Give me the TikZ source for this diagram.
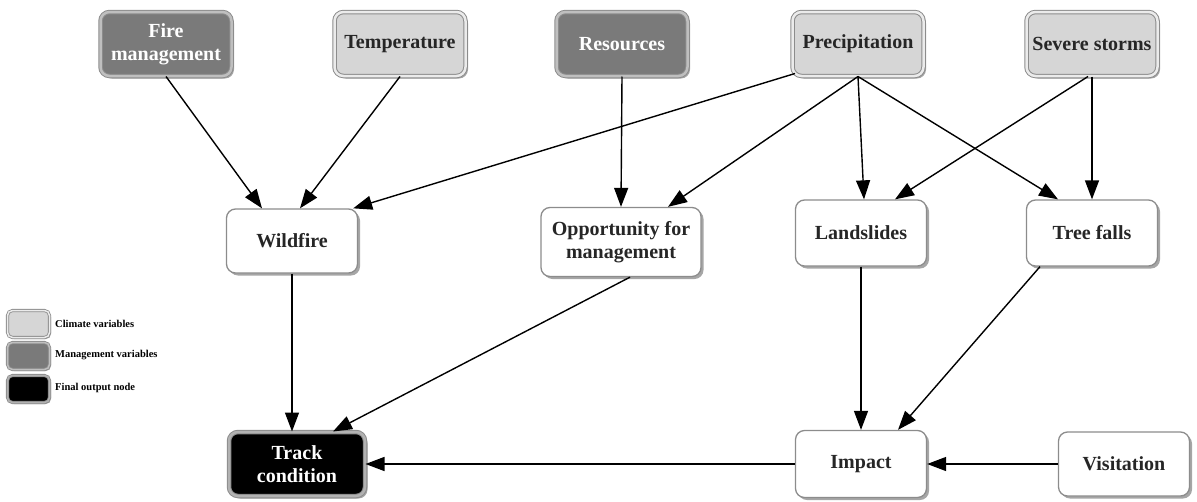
\documentclass[tikz,border=0pt]{standalone}
\usepackage{fontspec}
\setmainfont{Liberation Serif}
\usetikzlibrary{arrows.meta,shadows}
\tikzset{
  box/.style={draw=black!45, line width=1.3pt, rounded corners=9pt, minimum width=131pt, minimum height=64pt,
    align=center, inner sep=2pt, font=\bfseries\fontsize{20}{23}\selectfont, text=black!85,
    drop shadow={shadow xshift=2.5pt, shadow yshift=-2.5pt, opacity=0.35, fill=black}},
  dbl/.style={double distance=2.5pt, line width=1pt},
  clim/.style={box, fill=black!16, dbl, double=black!8},
  mgmt/.style={box, fill=black!52, text=white, dbl, double=black!25},
  final/.style={box, fill=black, text=white, dbl, double=black!30},
  plain/.style={box, fill=white},
  leg/.style={draw=black!45, line width=0.8pt, rounded corners=5pt, minimum width=42pt, minimum height=27pt, inner sep=0pt,
    double distance=1.5pt,
    drop shadow={shadow xshift=1.5pt, shadow yshift=-1.5pt, opacity=0.35, fill=black}},
  legtext/.style={anchor=west, font=\bfseries\fontsize{10.5}{12}\selectfont, inner sep=0pt},
  arr/.style={-{Triangle[length=19pt,width=14pt]}, line width=1.4pt}
}
\begin{document}
\begin{tikzpicture}[x=1pt,y=-1pt]
\useasboundingbox (0,0) rectangle (1197,501);
% top row
\node[mgmt] (fire) at (166,44) {Fire\\management};
\node[clim] (temp) at (400,44) {Temperature};
\node[mgmt] (res) at (622,44) {Resources};
\node[clim] (prec) at (858,44) {Precipitation};
\node[clim] (storm) at (1092,44) {Severe storms};
% middle row
\node[plain] (wild) at (292,241) {Wildfire};
\node[plain, minimum width=160pt, minimum height=69pt] (opp) at (621,242) {Opportunity for\\management};
\node[plain, minimum height=66pt] (land) at (861,233) {Landslides};
\node[plain, minimum height=66pt] (tree) at (1092,233) {Tree falls};
% bottom row
\node[final, minimum width=136pt] (track) at (297,464) {Track\\condition};
\node[plain, minimum height=67pt] (imp) at (861,464) {Impact};
\node[plain] (vis) at (1124,464) {Visitation};
% legend
\node[leg, fill=black!16, double=black!8] (l1) at (28.5,324) {};
\node[leg, fill=black!52, double=black!25] (l2) at (28.5,356) {};
\node[leg, fill=black, double=black!30] (l3) at (28.5,389) {};
\node[legtext] (t1) at (55,324) {Climate variables};
\node[legtext] (t2) at (55,355) {Management variables};
\node[legtext] (t3) at (55,388) {Final output node};
% edges
\draw[arr] (fire.south) -- ([xshift=-30pt]wild.north);
\draw[arr] (temp.south) -- ([xshift=8pt]wild.north);
\draw[arr] ([xshift=3pt,yshift=3pt]prec.south west) -- ([xshift=-5pt]wild.north east);
\draw[arr] (res.south) -- (opp.north);
\draw[arr] (prec.south) -- ([xshift=47pt]opp.north);
\draw[arr] (prec.south) -- ([xshift=3pt]land.north);
\draw[arr] (prec.south) -- ([xshift=-34pt]tree.north);
\draw[arr] ([xshift=-4pt]storm.south) -- ([xshift=34pt]land.north);
\draw[arr] (storm.south) -- (tree.north);
\draw[arr] (wild.south) -- (wild.south |- track.north);
\draw[arr] ([xshift=9pt]opp.south) -- ([xshift=36pt]track.north);
\draw[arr] (land.south) -- (land.south |- imp.north);
\draw[arr] ([xshift=-52pt]tree.south) -- ([xshift=37pt]imp.north);
\draw[arr] (imp.west) -- (track.east);
\draw[arr] (vis.west) -- (imp.east);
\end{tikzpicture}
\end{document}
